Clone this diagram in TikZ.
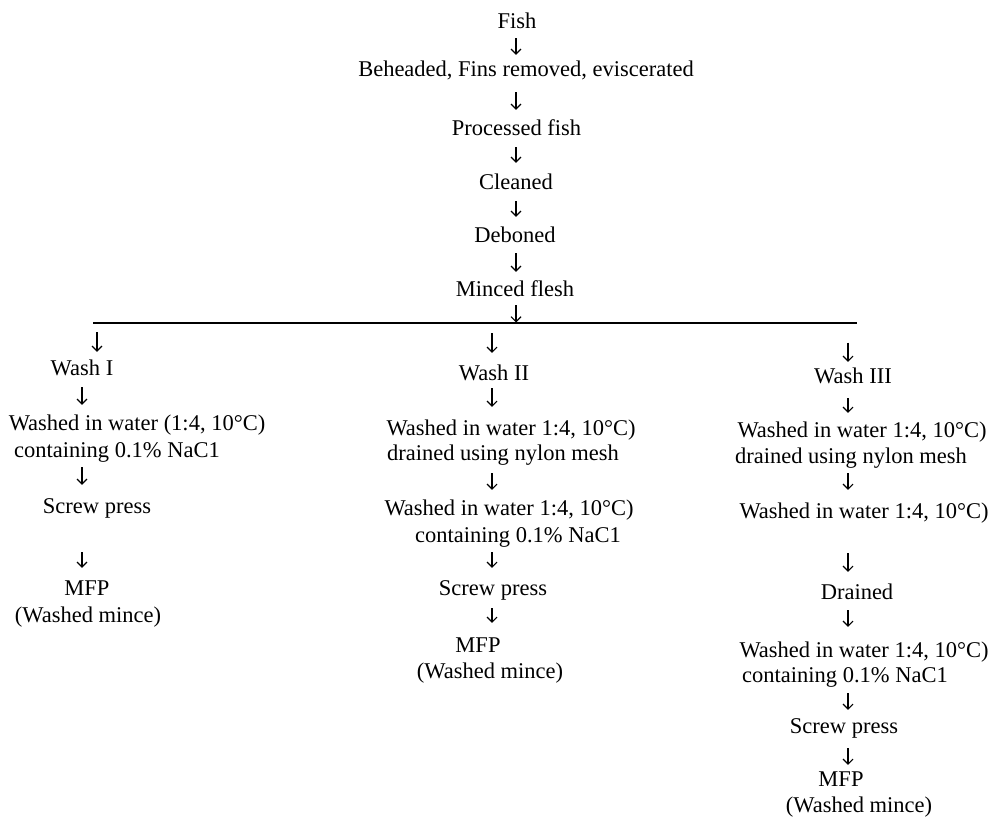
\documentclass[tikz,border=0pt]{standalone}
\usepackage{fontspec}
\setmainfont{Liberation Serif}
\usetikzlibrary{arrows.meta}
\begin{document}
\begin{tikzpicture}[x=1pt,y=-1pt,
  lbl/.style={anchor=base, inner sep=0pt, text height=16pt, text depth=5pt, font=\fontsize{22.5}{27}\selectfont},
  arr/.style={line width=1.1pt, -{Straight Barb[length=5pt,width=10pt,line width=1.1pt]}},
  bar/.style={line width=2pt}]
\useasboundingbox (0,0) rectangle (996,818);
\fill[white] (0,0) rectangle (996,818);
% column coordinates
\coordinate (cc) at (516,0);
\coordinate (c1) at (82,0);
\coordinate (c2) at (492,0);
\coordinate (c3) at (848,0);
% centre column
\node[lbl] (fish)    at (517,29)  {Fish};
\node[lbl] (behead)  at (526,77)  {Beheaded, Fins removed, eviscerated};
\node[lbl] (proc)    at (516.5,136) {Processed fish};
\node[lbl] (clean)   at (516,190) {Cleaned};
\node[lbl] (debone)  at (515,243) {Deboned};
\node[lbl] (minced)  at (515,297) {Minced flesh};
% horizontal bar
\coordinate (hl) at (93,323.5);
\coordinate (hr) at (857,323.5);
\coordinate (b1) at (97,323.5);
\coordinate (b2) at (492,323.5);
\coordinate (b3) at (848,323.5);
\draw[bar] (hl) -- (hr);
% column 1
\node[lbl] (wash1) at (82,375)  {Wash I};
\node[lbl] (w1a)   at (137,430) {Washed in water (1:4, 10°C)};
\node[lbl] (w1b)   at (117,457) {containing 0.1\% NaC1};
\node[lbl] (scr1)  at (97,513)  {Screw press};
\node[lbl] (mfp1)  at (87,595)  {MFP};
\node[lbl] (wm1)   at (88,622)  {(Washed mince)};
% column 2
\node[lbl] (wash2) at (494,380) {Wash II};
\node[lbl] (w2a)   at (511,435) {Washed in water 1:4, 10°C)};
\node[lbl] (w2b)   at (503,460) {drained using nylon mesh};
\node[lbl] (w2c)   at (509,515) {Washed in water 1:4, 10°C)};
\node[lbl] (w2d)   at (518,542) {containing 0.1\% NaC1};
\node[lbl] (scr2)  at (493,595) {Screw press};
\node[lbl] (mfp2)  at (478,652) {MFP};
\node[lbl] (wm2)   at (490,678) {(Washed mince)};
% column 3
\node[lbl] (wash3) at (853,383) {Wash III};
\node[lbl] (w3a)   at (862,437) {Washed in water 1:4, 10°C)};
\node[lbl] (w3b)   at (851,463) {drained using nylon mesh};
\node[lbl] (w3c)   at (864,518) {Washed in water 1:4, 10°C)};
\node[lbl] (drain) at (857,599) {Drained};
\node[lbl] (w3d)   at (864,657) {Washed in water 1:4, 10°C)};
\node[lbl] (w3e)   at (845,682) {containing 0.1\% NaC1};
\node[lbl] (scr3)  at (844,733) {Screw press};
\node[lbl] (mfp3)  at (841,786) {MFP};
\node[lbl] (wm3)   at (859,812) {(Washed mince)};
% centre arrows
\draw[arr, shorten <=4pt, shorten >=6pt]  (fish.south -| cc)   -- (behead.north -| cc);
\draw[arr, shorten <=10pt, shorten >=10pt] (behead.south -| cc) -- (proc.north -| cc);
\draw[arr, shorten <=6pt, shorten >=11pt] (proc.south -| cc)   -- (clean.north -| cc);
\draw[arr, shorten <=6pt, shorten >=10pt] (clean.south -| cc)  -- (debone.north -| cc);
\draw[arr, shorten <=5pt, shorten >=9pt]  (debone.south -| cc) -- (minced.north -| cc);
\draw[arr, shorten <=3pt, shorten >=1pt]  (minced.south -| cc) -- (hl -| cc);
% branch arrows
\draw[arr, shorten <=9pt, shorten >=7pt]  (b1) -- (wash1.north -| b1);
\draw[arr, shorten <=10pt, shorten >=11pt] (b2) -- (wash2.north -| b2);
\draw[arr, shorten <=19pt, shorten >=5pt] (b3) -- (wash3.north -| b3);
% column 1 arrows
\draw[arr, shorten <=7pt, shorten >=9pt]  (wash1.south -| c1) -- (w1a.north -| c1);
\draw[arr, shorten <=5pt, shorten >=12pt] (w1b.south -| c1)   -- (scr1.north -| c1);
\draw[arr, shorten <=34pt, shorten >=11pt] (scr1.south -| c1) -- (mfp1.north -| c1);
% column 2 arrows
\draw[arr, shorten <=3pt, shorten >=12pt] (wash2.south -| c2) -- (w2a.north -| c2);
\draw[arr, shorten <=8pt, shorten >=9pt]  (w2b.south -| c2)   -- (w2c.north -| c2);
\draw[arr, shorten <=5pt, shorten >=11pt] (w2d.south -| c2)   -- (scr2.north -| c2);
\draw[arr, shorten <=8pt, shorten >=13pt] (scr2.south -| c2)  -- (mfp2.north -| c2);
% column 3 arrows
\draw[arr, shorten <=10pt, shorten >=8pt] (wash3.south -| c3) -- (w3a.north -| c3);
\draw[arr, shorten <=5pt, shorten >=12pt] (w3b.south -| c3)   -- (w3c.north -| c3);
\draw[arr, shorten <=30pt, shorten >=11pt] (w3c.south -| c3)  -- (drain.north -| c3);
\draw[arr, shorten <=6pt, shorten >=14pt] (drain.south -| c3) -- (w3d.north -| c3);
\draw[arr, shorten <=6pt, shorten >=7pt]  (w3e.south -| c3)   -- (scr3.north -| c3);
\draw[arr, shorten <=10pt, shorten >=5pt] (scr3.south -| c3)  -- (mfp3.north -| c3);
\end{tikzpicture}
\end{document}
